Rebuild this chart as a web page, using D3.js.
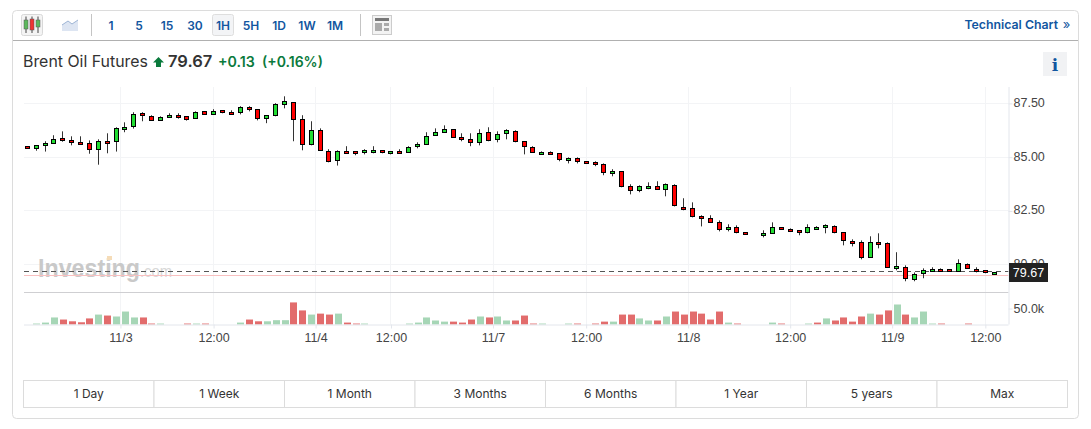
<!DOCTYPE html>
<html lang="en">
<head>
<meta charset="UTF-8">
<title>Brent Oil Futures</title>
<script src="https://d3js.org/d3.v7.min.js"></script>
<style>
    html, body { margin: 0; padding: 0; background: #fff; overflow: hidden; }
    svg { display: block; font-family: Inter, sans-serif; }
    .axis text { font-family: "Liberation Sans", Arial, sans-serif; font-size: 12.5px; fill: #444; }
    .axis path, .axis line { stroke: #e3e6ec; }
</style>
</head>
<body>
<svg id="chart" width="1091" height="429"></svg>
<script>
// 1H candles
const opens = [85.51,85.40,85.54,85.63,85.88,85.78,85.69,85.64,85.35,85.74,85.72,86.28,86.42,87.04,86.90,86.70,86.84,86.95,86.90,86.81,87.13,86.99,87.18,87.09,87.09,87.32,87.23,86.81,86.95,87.46,87.55,86.76,85.60,86.25,85.27,84.85,85.27,85.27,85.23,85.23,85.32,85.18,85.27,85.23,85.51,85.60,86.02,86.16,86.30,85.92,85.83,85.69,86.16,85.83,86.11,86.20,85.74,85.46,85.13,85.23,85.18,84.85,84.95,84.81,84.76,84.67,84.25,84.34,83.64,83.46,83.55,83.64,83.51,83.69,82.67,82.62,82.25,82.16,81.97,81.64,81.74,81.51,81.41,81.37,81.46,81.74,81.64,81.60,81.51,81.64,81.74,81.79,81.51,81.09,81.04,80.34,81.04,80.99,79.83,79.88,79.32,79.60,79.69,79.78,79.78,79.69,80.02,79.78,79.74,79.55];
const highs = [85.51,85.55,85.74,86.02,86.20,85.97,85.97,85.78,85.83,86.11,86.39,86.62,87.09,87.09,86.95,86.90,87.04,87.04,86.90,87.13,87.13,87.23,87.18,87.18,87.37,87.37,87.23,86.95,87.51,87.83,87.55,86.95,86.67,86.34,85.37,85.32,85.51,85.27,85.37,85.51,85.32,85.27,85.37,85.51,85.69,86.16,86.34,86.48,86.30,86.11,86.11,86.30,86.39,86.20,86.30,86.25,85.74,85.51,85.27,85.27,85.18,84.99,84.99,84.81,84.81,84.71,84.44,84.34,83.74,83.69,83.83,83.88,83.78,83.74,83.09,82.90,82.30,82.30,82.06,81.88,81.83,81.51,81.41,81.60,81.97,81.74,81.69,81.60,81.88,81.79,81.88,81.83,81.51,81.18,81.13,81.32,81.46,81.04,80.58,79.97,79.64,79.83,79.88,79.83,79.78,80.25,80.06,79.88,79.74,79.64];
const lows = [85.40,85.30,85.26,85.63,85.72,85.55,85.58,85.16,84.65,85.18,85.26,86.16,86.33,86.67,86.70,86.70,86.84,86.79,86.70,86.81,86.99,86.99,87.04,86.99,86.99,87.13,86.71,86.58,86.90,87.27,85.74,85.32,85.55,85.32,84.76,84.61,85.18,85.09,85.13,85.18,85.18,85.13,85.18,85.23,85.41,85.60,86.02,86.16,85.92,85.74,85.51,85.55,85.74,85.69,85.83,85.69,85.13,85.23,85.13,85.13,84.81,84.71,84.71,84.71,84.58,84.16,84.11,83.60,83.27,83.37,83.51,83.51,83.18,82.71,82.53,82.20,81.78,81.97,81.55,81.55,81.46,81.41,81.41,81.27,81.46,81.64,81.55,81.37,81.46,81.64,81.46,81.46,80.90,80.85,80.25,80.34,80.76,79.88,79.74,79.23,79.23,79.37,79.69,79.69,79.69,79.69,79.83,79.64,79.60,79.55];
const closes = [85.40,85.55,85.64,85.83,85.77,85.68,85.58,85.35,85.74,85.63,86.34,86.39,86.99,86.93,86.70,86.85,86.95,86.84,86.75,87.09,86.99,87.13,87.09,86.99,87.32,87.21,86.81,86.95,87.46,87.60,86.76,85.60,86.25,85.32,84.81,85.27,85.18,85.18,85.32,85.32,85.23,85.27,85.18,85.46,85.60,85.97,86.16,86.30,85.92,85.83,85.69,86.11,85.78,86.06,86.25,85.74,85.51,85.23,85.23,85.13,84.90,84.95,84.81,84.71,84.67,84.30,84.34,83.64,83.46,83.64,83.64,83.51,83.74,82.76,82.58,82.25,82.16,81.97,81.64,81.74,81.51,81.41,81.41,81.46,81.74,81.64,81.55,81.51,81.74,81.74,81.83,81.51,81.13,80.99,80.34,81.04,80.95,79.88,79.92,79.37,79.55,79.74,79.78,79.69,79.69,80.06,79.83,79.69,79.64,79.64];
// thousands of contracts per candle
const volumes = [0,3,6,22,15.5,10,7,19,31,28,25,40.5,22,22,3,3,0,0,3,3,3,0,0,0,6,15.5,10,10,13.5,13.5,69,44,31,34,31,34,6,3,3,0,0,0,0,3,6,22,12.5,9,9,6,15.5,25,22,25,12.5,12.5,28,3,3,0,0,3,3,0,3,9,9,31,31,19,12.5,12.5,25,40.5,31,40.5,34,15.5,40.5,6,3,0,0,0,6,3,0,0,3,6,19,12.5,22,9,25,34,31,44,62.5,31,22,40.5,3,3,0,0,3,0,0,0];
// candle 89 looks green but its volume bar is red in the picture
const redVolumeAnyway = [89];

const priceTicks = [80, 82.5, 85, 87.5];
const volumeTicks = [50];
const timeTickIndex = [10.5, 21, 32.5, 41, 52.5, 63, 74.5, 86, 97.5, 108];
const timeTickLabels = ["11/3", "12:00", "11/4", "12:00", "11/7", "12:00", "11/8", "12:00", "11/9", "12:00"];
const lastPrice = 79.67;
const prevClose = 79.51;

const intervals = ["1", "5", "15", "30", "1H", "5H", "1D", "1W", "1M"];
const ranges = ["1 Day", "1 Week", "1 Month", "3 Months", "6 Months", "1 Year", "5 years", "Max"];

const blue = "#1256a0", upText = "#0a7a3c";

const svg = d3.select("#chart");

// card + toolbar
svg.append("rect").attr("x", 12.5).attr("y", 10.5).attr("width", 1066).attr("height", 408).attr("rx", 4)
    .attr("fill", "#fff").attr("stroke", "#dcdcdc");
svg.append("line").attr("x1", 13).attr("x2", 1078).attr("y1", 40.5).attr("y2", 40.5).attr("stroke", "#b0b0b0");

const iconBox = svg.append("g");
iconBox.append("rect").attr("x", 21.5).attr("y", 14.5).attr("width", 21).attr("height", 21).attr("rx", 2)
    .attr("fill", "#f4f4f4").attr("stroke", "#d8d8d8");
[[26, 20, 29, 5, "#5cb85c"], [32, 19, 30, 8, "#ee3333"], [38, 20, 27, 4, "#5cb85c"]].forEach(d => {
    iconBox.append("line").attr("x1", d[0]).attr("x2", d[0]).attr("y1", 16.5).attr("y2", 33).attr("stroke", "#444");
    iconBox.append("rect").attr("x", d[0] - 2).attr("y", d[1]).attr("width", 4).attr("height", d[2] - d[1])
        .attr("fill", d[4]).attr("stroke", "#555").attr("stroke-width", 0.5);
});
svg.append("path").attr("d", "M62 31V25L68 21L72 24L78 20V31Z").attr("fill", "#dde5f2").attr("stroke", "none");
svg.append("path").attr("d", "M62 25L68 21L72 24L78 20").attr("fill", "none").attr("stroke", "#9db4d4");

[91.5, 360.5].forEach(x => svg.append("line").attr("x1", x).attr("x2", x).attr("y1", 14).attr("y2", 36).attr("stroke", "#c4c4c4"));

const intervalX = d3.scalePoint().domain(intervals).range([111, 335]);
svg.append("rect").attr("x", 212.5).attr("y", 14.5).attr("width", 21).attr("height", 21).attr("rx", 2)
    .attr("fill", "#f3f4f6").attr("stroke", "#dedede");
svg.selectAll(".interval").data(intervals).enter().append("text")
    .attr("class", "interval")
    .attr("x", d => intervalX(d)).attr("y", 29.5)
    .attr("text-anchor", "middle").attr("font-size", 12).attr("font-weight", 600)
    .attr("fill", blue).text(d => d);

// layout icon
svg.append("rect").attr("x", 372.5).attr("y", 15.5).attr("width", 19).attr("height", 19).attr("fill", "#f3f3f3").attr("stroke", "#ccc");
svg.append("rect").attr("x", 375).attr("y", 18).attr("width", 14).attr("height", 3).attr("fill", "#777");
svg.append("rect").attr("x", 375).attr("y", 23).attr("width", 7).attr("height", 8).attr("fill", "#aaa");
svg.append("rect").attr("x", 384).attr("y", 23).attr("width", 5).attr("height", 3).attr("fill", "#aaa");
svg.append("rect").attr("x", 384).attr("y", 28).attr("width", 5).attr("height", 3).attr("fill", "#aaa");

svg.append("text").attr("x", 1058).attr("y", 29).attr("text-anchor", "end")
    .attr("font-size", 12.3).attr("font-weight", 600).attr("fill", blue).text("Technical Chart");
svg.append("text").attr("x", 1066.5).attr("y", 29).attr("text-anchor", "middle")
    .attr("font-size", 13).attr("fill", blue).text("»");

// headline
svg.append("text").attr("x", 23).attr("y", 67).attr("font-size", 15.9).attr("fill", "#333").text("Brent Oil Futures");
svg.append("path").attr("d", "M158.5 57L164 62.5H161V67H156V62.5H153Z").attr("fill", upText);
svg.append("text").attr("x", 168).attr("y", 67).attr("font-size", 16.5).attr("font-weight", 600).attr("fill", "#333").text("79.67");
svg.append("text").attr("x", 218).attr("y", 67).attr("font-size", 14.2).attr("font-weight", 600).attr("fill", upText).text("+0.13");
svg.append("text").attr("x", 262).attr("y", 67).attr("font-size", 14).attr("font-weight", 600).attr("fill", upText).text("(+0.16%)");

svg.append("rect").attr("x", 1043).attr("y", 52).attr("width", 24).attr("height", 24).attr("fill", "#f1f2f4");
svg.append("text").attr("x", 1055).attr("y", 71).attr("text-anchor", "middle")
    .attr("font-family", "'DejaVu Serif', serif").attr("font-size", 17).attr("font-weight", 700).attr("fill", blue).text("i");

// scales
const x = d3.scaleLinear().domain([0, opens.length - 1]).range([27.3, 994.2]);
const y = d3.scaleLinear().domain([80, 87.5]).range([264.7, 103.4]);
const yVol = d3.scaleLinear().domain([0, 50]).range([324.5, 308.5]);
const crisp = v => Math.round(v - 0.5) + 0.5;

const plotLeft = 24, plotRight = 1008.5, plotTop = 87, plotBottom = 324.5, volTop = 292.5;

// grid
svg.selectAll(".vgrid").data(timeTickIndex).enter().append("line")
    .attr("class", "vgrid")
    .attr("x1", d => crisp(x(d))).attr("x2", d => crisp(x(d)))
    .attr("y1", plotTop).attr("y2", plotBottom)
    .attr("stroke", "#f3f4f6");
svg.selectAll(".hgrid").data(priceTicks).enter().append("line")
    .attr("class", "hgrid")
    .attr("x1", plotLeft).attr("x2", plotRight)
    .attr("y1", d => crisp(y(d))).attr("y2", d => crisp(y(d)))
    .attr("stroke", "#f3f4f6");

// watermark
svg.append("text").attr("x", 38).attr("y", 277).attr("fill", "#c9c9c9")
    .attr("font-family", "'Liberation Sans', sans-serif").attr("font-size", 26).attr("font-weight", 700)
    .attr("textLength", 102).attr("lengthAdjust", "spacingAndGlyphs").text("Investing");
svg.append("text").attr("x", 140).attr("y", 277).attr("fill", "#d8d8d8")
    .attr("font-family", "'Liberation Sans', sans-serif").attr("font-size", 17)
    .attr("textLength", 32).attr("lengthAdjust", "spacingAndGlyphs").text(".com");
svg.append("rect").attr("x", 107).attr("y", 256).attr("width", 5).attr("height", 4).attr("fill", "#f5dcb8");

// price lines
svg.append("line").attr("x1", plotLeft).attr("x2", plotRight)
    .attr("y1", crisp(y(prevClose))).attr("y2", crisp(y(prevClose))).attr("stroke", "#f9c0c0");
svg.append("line").attr("x1", plotLeft).attr("x2", plotRight)
    .attr("y1", crisp(y(lastPrice))).attr("y2", crisp(y(lastPrice)))
    .attr("stroke", "#555").attr("stroke-dasharray", "5,4");

// panel separator
svg.append("line").attr("x1", plotLeft).attr("x2", plotRight).attr("y1", volTop).attr("y2", volTop).attr("stroke", "#cfcfd2");

// volume
svg.selectAll(".vol").data(volumes).enter().append("rect")
    .attr("class", "vol")
    .attr("x", (d, i) => Math.round(x(i)) - 3)
    .attr("width", 7)
    .attr("y", d => yVol(d))
    .attr("height", d => yVol(0) - yVol(d))
    .attr("fill", (d, i) => closes[i] >= opens[i] && !redVolumeAnyway.includes(i) ? "#a6d6b6" : "#e26c6c");

// candles
const candles = svg.selectAll(".candle").data(opens).enter().append("g").attr("class", "candle");
candles.append("line")
    .attr("x1", (d, i) => crisp(x(i))).attr("x2", (d, i) => crisp(x(i)))
    .attr("y1", (d, i) => y(highs[i])).attr("y2", (d, i) => y(lows[i]))
    .attr("stroke", "#333");
candles.append("rect")
    .attr("x", (d, i) => crisp(x(i)) - 2)
    .attr("width", 4)
    .attr("y", (d, i) => crisp(y(Math.max(d, closes[i]))))
    .attr("height", (d, i) => Math.abs(crisp(y(d)) - crisp(y(closes[i]))))
    .attr("fill", (d, i) => closes[i] >= d ? "#22dd33" : "#ff0000")
    .attr("stroke", "#000");

// axes
const priceAxis = d3.axisRight(y).tickValues(priceTicks).tickSize(4).tickPadding(1).tickFormat(d3.format(".2f"));
svg.append("g").attr("class", "axis").attr("transform", `translate(${plotRight},0)`).call(priceAxis)
    .call(g => g.select(".domain").attr("d", `M0.5,${plotTop}V${plotBottom}`))
    .call(g => g.selectAll("text").attr("dy", "0.24em"));

const volAxis = d3.axisRight(yVol).tickValues(volumeTicks).tickSize(4).tickPadding(1).tickFormat(d => d.toFixed(1) + "k");
svg.append("g").attr("class", "axis").attr("transform", `translate(${plotRight},0)`).call(volAxis)
    .call(g => g.select(".domain").remove());

const timeAxis = d3.axisBottom(x).tickValues(timeTickIndex).tickSize(4).tickPadding(5)
    .tickFormat((d, i) => timeTickLabels[i]);
svg.append("g").attr("class", "axis").attr("transform", `translate(0,${plotBottom})`).call(timeAxis)
    .call(g => g.select(".domain").attr("d", `M${plotLeft},0.5H${plotRight}`));

// last price tag
svg.append("rect").attr("x", 1009).attr("y", 263).attr("width", 39).attr("height", 19).attr("fill", "#222");
svg.append("text").attr("x", 1028.5).attr("y", 277).attr("text-anchor", "middle")
    .attr("font-family", "'Liberation Sans', sans-serif").attr("font-size", 12.5).attr("fill", "#fff").text(lastPrice.toFixed(2));

// range buttons
const rangeX = d3.scaleBand().domain(ranges).range([23.5, 1067.5]);
svg.selectAll(".range").data(ranges).enter().append("rect")
    .attr("class", "range")
    .attr("x", d => rangeX(d)).attr("y", 380.5)
    .attr("width", rangeX.bandwidth()).attr("height", 27)
    .attr("fill", "#fff").attr("stroke", "#dcdcdc");
svg.selectAll(".range-label").data(ranges).enter().append("text")
    .attr("class", "range-label")
    .attr("x", d => rangeX(d) + rangeX.bandwidth() / 2).attr("y", 398)
    .attr("text-anchor", "middle").attr("font-size", 12).attr("fill", "#333").text(d => d);
</script>
</body>
</html>
